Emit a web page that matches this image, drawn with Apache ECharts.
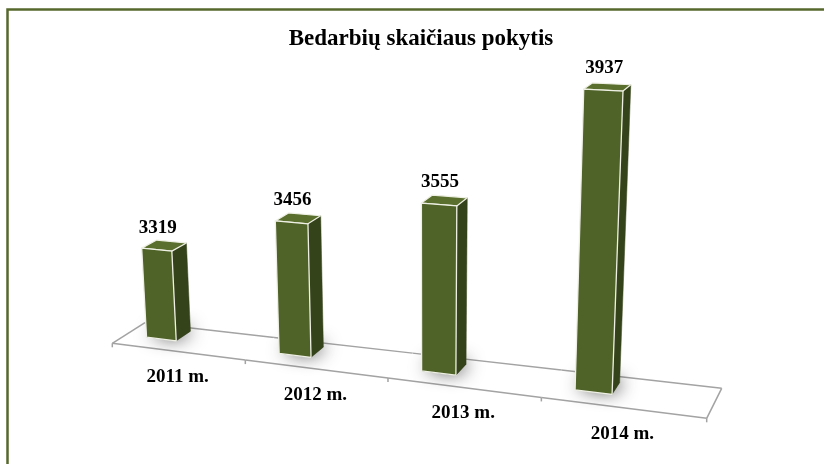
<!DOCTYPE html>
<html><head><meta charset="utf-8">
<script src="https://cdn.jsdelivr.net/npm/echarts@6/dist/echarts.min.js"></script>
<style>html,body{margin:0;padding:0;background:#fff}#c{width:824px;height:464px}</style>
</head><body><div id="c"></div>
<script>
// ---- data ----
const categories = ['2011 m.', '2012 m.', '2013 m.', '2014 m.'];
const values = [3319, 3456, 3555, 3937];
const axisMin = 3000;
const axisMax = 4000;
const titleText = 'Bedarbių skaičiaus pokytis';

// ---- camera (perspective view of the hidden plot grid) ----
// unit square of grid (s across categories, r along value axis) -> screen quad of bar front plane
const barPlaneQuad = [[97.9, 331.2], [675.5, 402.1], [691.5, 72.4], [79.6, 45.1]];
// floor: front and back edges (s = 0 .. 1), with horizontal perspective factor
const floorFront = [[112.3, 343.3], [706.7, 418.3]];
const floorBack = [[145, 322.7], [721.7, 388.3]];
const floorPersp = -0.135;
const depthVP = [1010, -222];
const barDepth = 0.017;
const barWidthRatio = 0.23;

function squareToQuad(q) {
  const x0 = q[0][0], y0 = q[0][1], x1 = q[1][0], y1 = q[1][1];
  const x2 = q[2][0], y2 = q[2][1], x3 = q[3][0], y3 = q[3][1];
  const dx1 = x1 - x2, dx2 = x3 - x2, dx3 = x0 - x1 + x2 - x3;
  const dy1 = y1 - y2, dy2 = y3 - y2, dy3 = y0 - y1 + y2 - y3;
  const den = dx1 * dy2 - dy1 * dx2;
  const g = (dx3 * dy2 - dy3 * dx2) / den;
  const h = (dx1 * dy3 - dy1 * dx3) / den;
  return { a: x1 - x0 + g * x1, b: x3 - x0 + h * x3, c: x0,
           d: y1 - y0 + g * y1, e: y3 - y0 + h * y3, f: y0, g: g, h: h };
}
const BAR = squareToQuad(barPlaneQuad);

function proj(M, u, v, depth) {
  const k = depth || 0;
  const A = M.a * u + M.b * v + M.c + k * depthVP[0];
  const B = M.d * u + M.e * v + M.f + k * depthVP[1];
  const W = M.g * u + M.h * v + 1 + k;
  return [A / W, B / W];
}
function edgePoint(e, s) {
  const g = floorPersp, w = 1 + g * s;
  return [(e[0][0] + s * ((1 + g) * e[1][0] - e[0][0])) / w,
          (e[0][1] + s * ((1 + g) * e[1][1] - e[0][1])) / w];
}
function floorPoint(s, z) {
  const f = edgePoint(floorFront, s), b = edgePoint(floorBack, s);
  return [f[0] + z * (b[0] - f[0]), f[1] + z * (b[1] - f[1])];
}

const FONT = '"Liberation Serif","Times New Roman",serif';
const floorStroke = '#a3a3a3';

function renderFloor(params, api) {
  const cs = params.coordSys;
  const i = api.value(0);
  const center = api.coord([i, axisMin]);
  const band = api.size([1, 0])[0];
  const s0 = (center[0] - band / 2 - cs.x) / cs.width;
  const s1 = (center[0] + band / 2 - cs.x) / cs.width;
  const fl = floorPoint(s0, 0), fr = floorPoint(s1, 0), br = floorPoint(s1, 1), bl = floorPoint(s0, 1);
  const lineStyle = { stroke: floorStroke, lineWidth: 1.5, fill: null };
  const children = [
    { type: 'polygon', shape: { points: [fl, fr, br, bl] }, style: { fill: '#ffffff' } },
    { type: 'line', shape: { x1: fl[0], y1: fl[1], x2: fr[0], y2: fr[1] }, style: lineStyle },
    { type: 'line', shape: { x1: bl[0], y1: bl[1], x2: br[0], y2: br[1] }, style: lineStyle },
    { type: 'line', shape: { x1: fl[0], y1: fl[1], x2: fl[0], y2: fl[1] + 4 }, style: lineStyle }
  ];
  if (i === 0) {
    children.push({ type: 'line', shape: { x1: fl[0], y1: fl[1], x2: bl[0], y2: bl[1] }, style: lineStyle });
  }
  if (i === categories.length - 1) {
    children.push({ type: 'line', shape: { x1: fr[0], y1: fr[1], x2: br[0], y2: br[1] }, style: lineStyle });
    children.push({ type: 'line', shape: { x1: fr[0], y1: fr[1], x2: fr[0], y2: fr[1] + 4 }, style: lineStyle });
  }
  const lc = floorPoint((s0 + s1) / 2, 0);
  children.push({
    type: 'text',
    style: { text: categories[i], x: lc[0], y: lc[1] + 26, align: 'center', verticalAlign: 'middle',
             font: 'bold 19px ' + FONT, fill: '#000' }
  });
  return { type: 'group', children: children };
}

function renderBar(params, api) {
  const cs = params.coordSys;
  const cat = api.value(0), v = api.value(1);
  const top = api.coord([cat, v]);
  const base = api.coord([cat, axisMin]);
  const band = api.size([1, 0])[0];
  const sC = (top[0] - cs.x) / cs.width;
  const hw = band * barWidthRatio / 2 / cs.width;
  const rT = (cs.y + cs.height - top[1]) / cs.height;
  const rB = (cs.y + cs.height - base[1]) / cs.height;
  const s0 = sC - hw, s1 = sC + hw;
  const P = (s, r, z) => proj(BAR, s, r, z * barDepth);
  const flt = P(s0, rT, 0), frt = P(s1, rT, 0), frb = P(s1, rB, 0), flb = P(s0, rB, 0);
  const blt = P(s0, rT, 1), brt = P(s1, rT, 1), brb = P(s1, rB, 1);
  const blb = P(s0, rB, 1);
  const lab = P(sC, rT, 0);
  return {
    type: 'group',
    children: [
      { type: 'polygon', shape: { points: [flb, frb, brb, blb] },
        style: { fill: 'rgba(60,60,60,0.9)', shadowBlur: 18, shadowColor: 'rgba(0,0,0,0.9)',
                 shadowOffsetX: 3, shadowOffsetY: -2 } },
      { type: 'polygon', shape: { points: [frb, frt, brt, brb] },
        style: { fill: '#35431a', stroke: '#35431a', lineWidth: 0.5 } },
      { type: 'polygon', shape: { points: [flt, frt, brt, blt] },
        style: { fill: '#5a6f2e', stroke: '#eef0e4', lineWidth: 1.2, lineJoin: 'round' } },
      { type: 'polygon', shape: { points: [flb, flt, frt, frb] },
        style: { fill: '#4f6228', stroke: '#eef0e4', lineWidth: 1.3, lineJoin: 'round' } },
      { type: 'text',
        style: { text: String(v), x: lab[0] + 1, y: lab[1] - 22, align: 'center', verticalAlign: 'middle',
                 font: 'bold 19px ' + FONT, fill: '#000' } }
    ]
  };
}

const chart = echarts.init(document.getElementById('c'), null, { renderer: 'canvas' });
chart.setOption({
  animation: false,
  backgroundColor: '#ffffff',
  title: {
    text: titleText, left: 416, top: 23, textAlign: 'center',
    textStyle: { fontFamily: FONT, fontWeight: 'bold', fontSize: 23, color: '#000' }
  },
  grid: { left: 0, right: 0, top: 0, bottom: 0 },
  xAxis: { type: 'category', data: categories, show: false },
  yAxis: { type: 'value', min: axisMin, max: axisMax, show: false },
  graphic: [{
    type: 'rect', silent: true, z: 100,
    shape: { x: 7.5, y: 9.5, width: 840, height: 480 },
    style: { fill: null, stroke: '#56682c', lineWidth: 2.5 }
  }],
  series: [
    { type: 'custom', name: 'floor', z: 1, renderItem: renderFloor,
      data: categories.map((c, i) => [i, axisMin]) },
    { type: 'custom', name: 'Bedarbiai', z: 2, renderItem: renderBar,
      data: values.map((v, i) => [i, v]) }
  ]
});
</script>
</body></html>
